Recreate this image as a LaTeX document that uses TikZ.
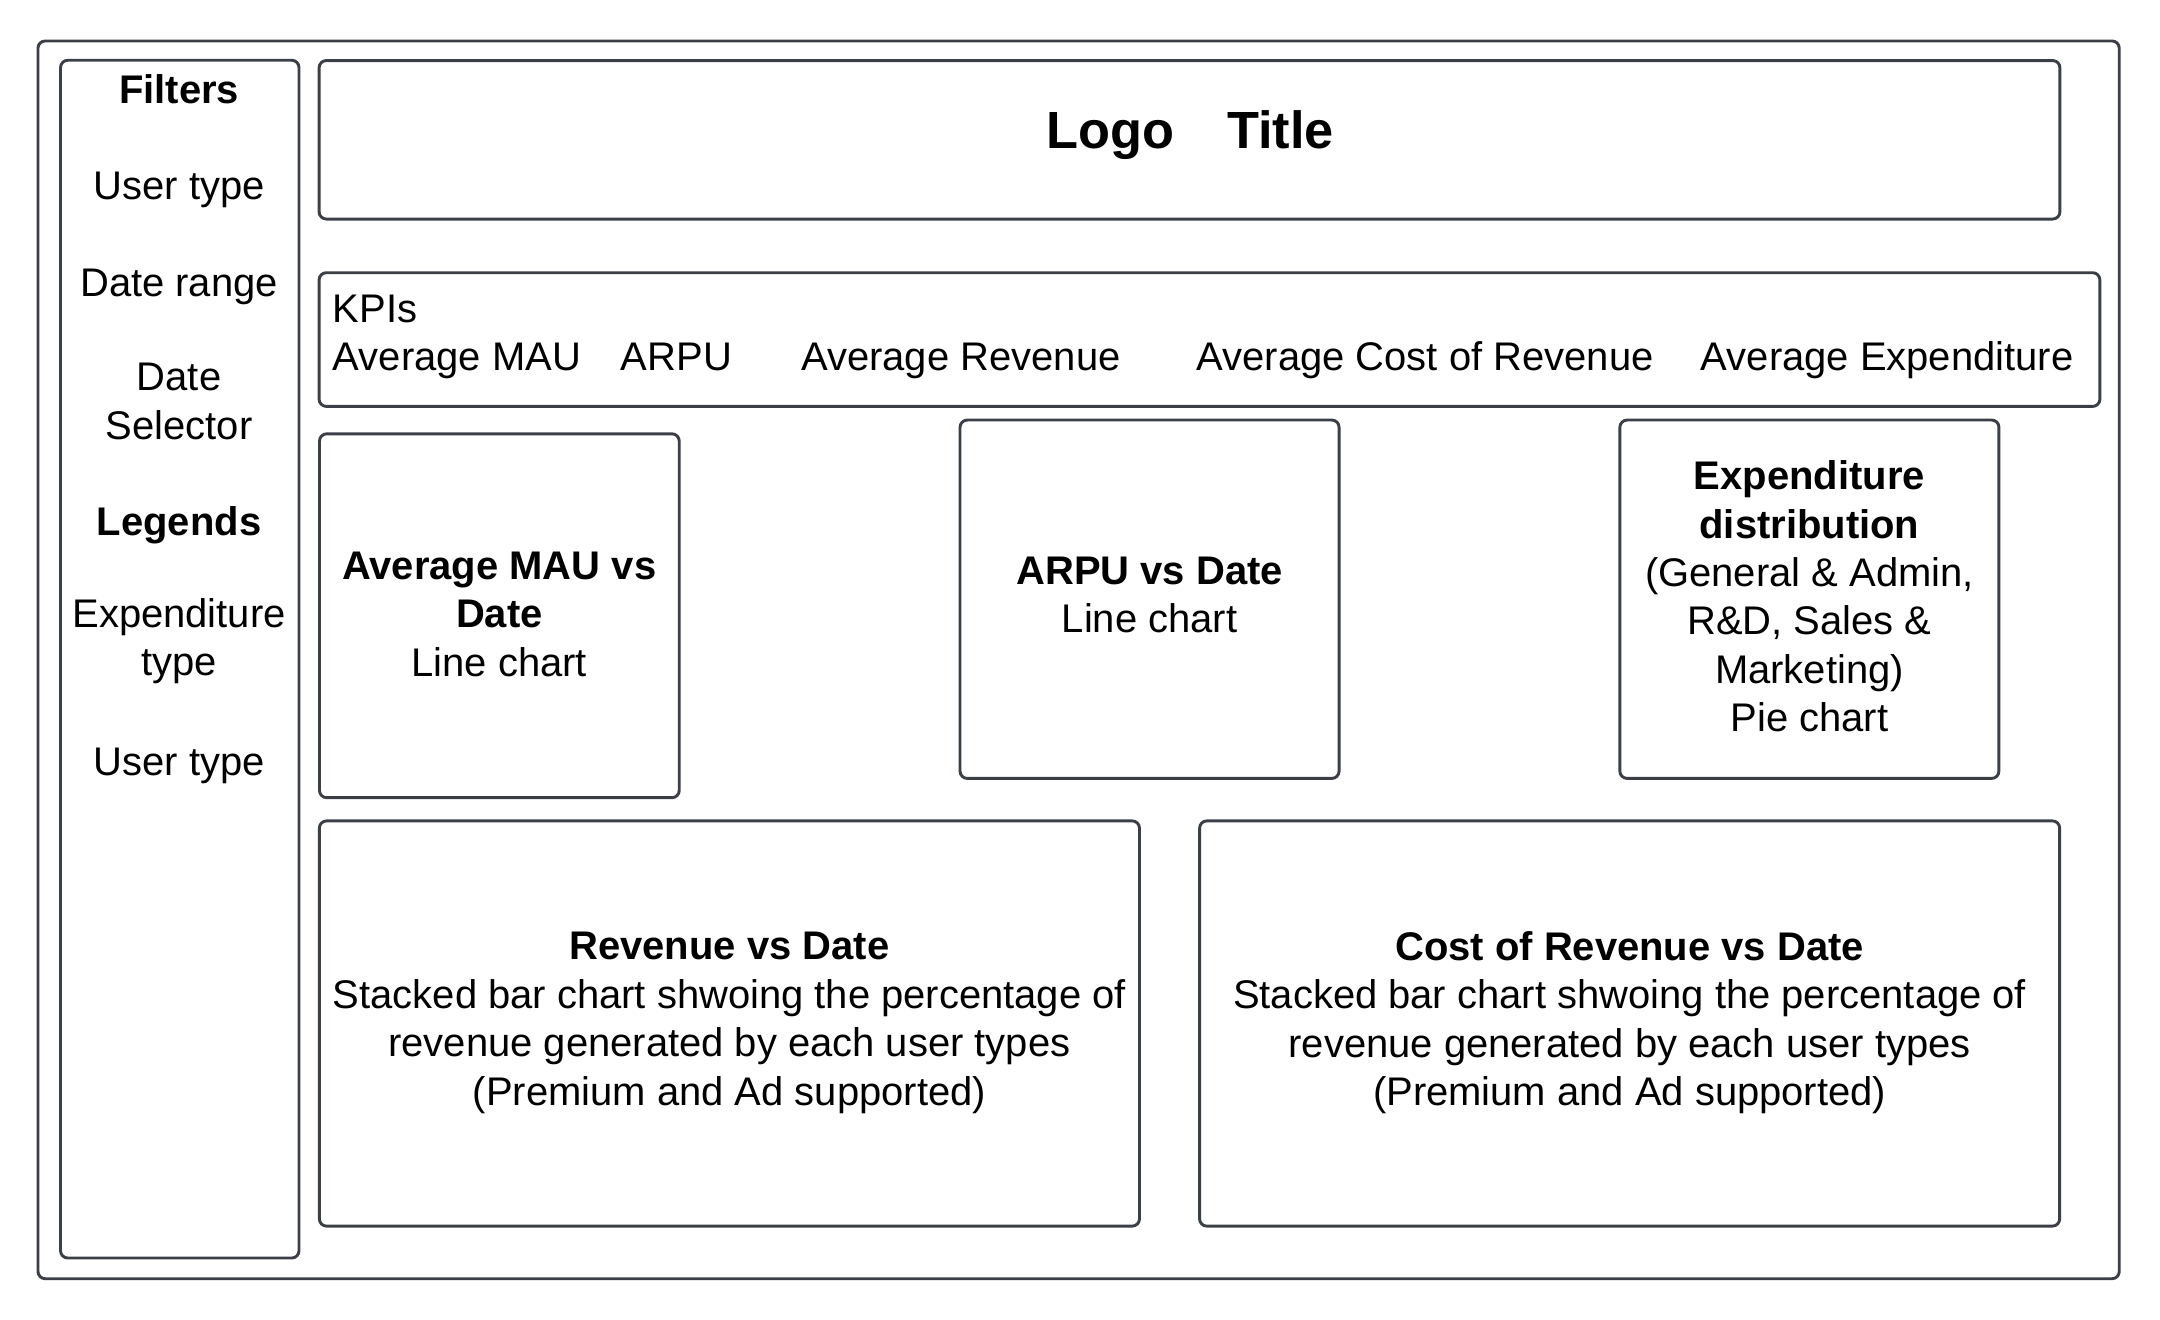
\documentclass[tikz,border=0pt]{standalone}
\usepackage{fontspec}
\setmainfont{Liberation Sans}
\definecolor{framegray}{HTML}{3B3F46}
\begin{document}
\begin{tikzpicture}[x=0.01cm,y=-0.01cm,
        panel/.style={draw=framegray,line width=0.6pt,rounded corners=1.5pt,inner sep=0pt},
        txt/.style={font=\fontsize{8.25}{10}\selectfont,align=center,inner sep=0pt},
        hd/.style={font=\fontsize{8.25}{10}\selectfont\bfseries,align=center,inner sep=0pt},
        big/.style={font=\fontsize{10.8}{13}\selectfont\bfseries,inner sep=0pt}]
    \useasboundingbox (0,0) rectangle (1568,958);

    % frames
    \node[panel,minimum width=15.10cm,minimum height=8.98cm] (outer) at (783,479) {};
    \node[panel,minimum width=1.73cm,minimum height=8.69cm] (filters) at (130.5,478.5) {};
    \node[panel,minimum width=12.63cm,minimum height=1.15cm] (header) at (863.5,101.5) {};
    \node[panel,minimum width=12.92cm,minimum height=0.97cm] (kpibox) at (878,246.5) {};

    % filter panel
    \node[hd,anchor=base] (filtershd) at (130,75) {Filters};
    \node[txt,anchor=base] (usertype) at (130,145) {User type};
    \node[txt,anchor=base] (daterange) at (130,215) {Date range};
    \node[txt] (datesel) at (130,291.5) {Date\\Selector};
    \node[hd,anchor=base] (legendshd) at (130,389) {Legends};
    \node[txt] (exptype) at (130,465.5) {Expenditure\\type};
    \node[txt,anchor=base] (usertypeb) at (130,563) {User type};

    % header
    \node[big,anchor=base] (logo) at (806,108) {Logo};
    \node[big,anchor=base] (title) at (929.5,108) {Title};

    % kpis
    \node[txt,anchor=base west] (kpis) at (241,234) {KPIs};
    \node[txt,anchor=base west] (kpimau) at (241,269) {Average MAU};
    \node[txt,anchor=base west] (kpiarpu) at (450,269) {ARPU};
    \node[txt,anchor=base west] (kpirev) at (581,269) {Average Revenue};
    \node[txt,anchor=base west] (kpicost) at (868,269) {Average Cost of Revenue};
    \node[txt,anchor=base west] (kpiexp) at (1234,269) {Average Expenditure};

    % charts
    \node[panel,minimum width=2.61cm,minimum height=2.64cm] (mau) at (362.5,447) {};
    \node[txt] (mautxt) at (362.5,446) {\textbf{Average MAU vs}\\\textbf{Date}\\Line chart};
    \node[panel,minimum width=2.75cm,minimum height=2.60cm] (arpu) at (834.5,435) {};
    \node[txt] (arputxt) at (834.5,432) {\textbf{ARPU vs Date}\\Line chart};
    \node[panel,minimum width=2.75cm,minimum height=2.60cm] (expend) at (1313.5,435) {};
    \node[txt] (expendtxt) at (1313.5,433)
        {\textbf{Expenditure}\\\textbf{distribution}\\(General \& Admin,\\R\&D, Sales \&\\Marketing)\\Pie chart};
    \node[panel,minimum width=5.95cm,minimum height=2.94cm] (revenue) at (529.5,743) {};
    \node[txt] (revenuetxt) at (529.5,742.5)
        {\textbf{Revenue vs Date}\\Stacked bar chart shwoing the percentage of\\revenue generated by each user types\\(Premium and Ad supported)};
    \node[panel,minimum width=6.24cm,minimum height=2.94cm] (cost) at (1183,743) {};
    \node[txt] (costtxt) at (1183,742.5)
        {\textbf{Cost of Revenue vs Date}\\Stacked bar chart shwoing the percentage of\\revenue generated by each user types\\(Premium and Ad supported)};
\end{tikzpicture}
\end{document}
